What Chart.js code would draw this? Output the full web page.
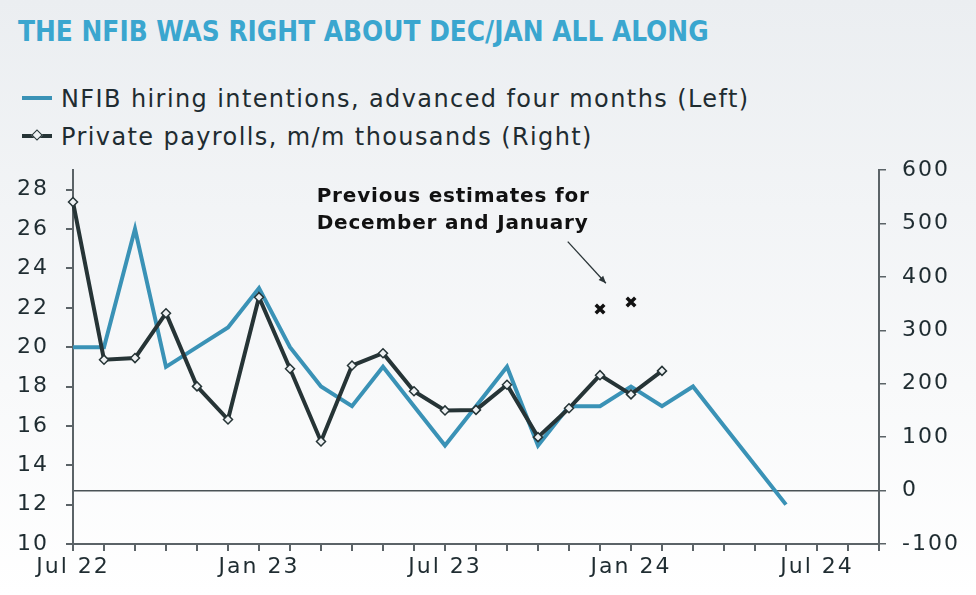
<!DOCTYPE html>
<html>
<head>
<meta charset="utf-8">
<title>NFIB vs private payrolls</title>
<script src="https://cdn.jsdelivr.net/npm/chart.js@4.4.1/dist/chart.umd.min.js"></script>
<style>
    html, body { margin: 0; padding: 0; }
    body {
        width: 976px;
        height: 595px;
        position: relative;
        overflow: hidden;
        background: linear-gradient(#ebeef1, #ffffff);
        font-family: "DejaVu Sans", sans-serif;
        color: #1f2c31;
    }
    #title {
        position: absolute;
        left: 18px;
        top: 15px;
        font-family: "DejaVu Sans Condensed", "DejaVu Sans", sans-serif;
        font-weight: bold;
        font-size: 27.7px;
        color: #3aa6cf;
        white-space: nowrap;
    }
    .legend-row {
        position: absolute;
        left: 22px;
        font-size: 24px;
        letter-spacing: 1.4px;
        white-space: nowrap;
        line-height: 28px;
    }
    .legend-row .mark {
        display: inline-block;
        position: relative;
        width: 30px;
        height: 4px;
        margin-right: 9px;
        vertical-align: middle;
        top: -2px;
    }
    .legend-row .diamond {
        position: absolute;
        left: 11px;
        top: -3px;
        width: 6px;
        height: 6px;
        background: #eef1f3;
        border: 1.5px solid #263436;
        transform: rotate(45deg);
    }
    #chart { position: absolute; left: 0; top: 0; }
</style>
</head>
<body>
<div id="title">THE NFIB WAS RIGHT ABOUT DEC/JAN ALL ALONG</div>
<div class="legend-row" style="top: 85px;"><span class="mark" style="background:#3a92b6;"></span>NFIB hiring intentions, advanced four months (Left)</div>
<div class="legend-row" style="top: 123px;"><span class="mark" style="background:#263436;"><span class="diamond"></span></span>Private payrolls, m/m thousands (Right)</div>
<canvas id="chart" width="976" height="595"></canvas>

<script>
// months on the x axis, Jul 22 .. Sep 24
var months = ['Jul 22', 'Aug 22', 'Sep 22', 'Oct 22', 'Nov 22', 'Dec 22',
    'Jan 23', 'Feb 23', 'Mar 23', 'Apr 23', 'May 23', 'Jun 23',
    'Jul 23', 'Aug 23', 'Sep 23', 'Oct 23', 'Nov 23', 'Dec 23',
    'Jan 24', 'Feb 24', 'Mar 24', 'Apr 24', 'May 24', 'Jun 24',
    'Jul 24', 'Aug 24', 'Sep 24'];
var shownMonths = ['Jul 22', 'Jan 23', 'Jul 23', 'Jan 24', 'Jul 24'];

// NFIB hiring intentions, advanced four months (left axis)
var nfib = [20, 20, 26, 19, 20, 21, 23, 20, 18, 17, 19, 17,
    15, 17, 19, 15, 17, 17, 18, 17, 18, 16, 14, 12];

// private payrolls, m/m thousands (right axis)
var payrolls = [540, 245, 248, 332, 195, 133, 362, 228, 92, 234, 257, 186,
    150, 151, 198, 100, 154, 216, 180, 224];

// previous estimates for December and January
var prevEstimates = [null, null, null, null, null, null, null, null, null, null, null, null,
    null, null, null, null, null, 340, 353];

var annotationLines = ['Previous estimates for', 'December and January'];

(function () {
    'use strict';

    var axisGray = '#5b6367';
    var tickFont = { family: '"DejaVu Sans", sans-serif', size: 22 };
    var textColor = '#1f2c31';

    // wider tick lettering, like the original
    var spacingPlugin = {
        id: 'tickSpacing',
        beforeLayout: function (chart) { chart.ctx.letterSpacing = '2px'; },
        beforeDraw: function (chart) { chart.ctx.letterSpacing = '2px'; }
    };

    // text + arrow for the previous estimates
    var annotationPlugin = {
        id: 'estimateNote',
        afterDatasetsDraw: function (chart) {
            var ctx = chart.ctx;
            var x = chart.scales.x;
            var yR = chart.scales.yR;
            ctx.save();
            ctx.letterSpacing = '0.8px';
            ctx.fillStyle = '#111111';
            ctx.font = 'bold 20px "DejaVu Sans", sans-serif';
            ctx.textBaseline = 'alphabetic';
            ctx.textAlign = 'left';
            var tx = x.getPixelForValue(7.86);
            ctx.fillText(annotationLines[0], tx, yR.getPixelForValue(540));
            ctx.fillText(annotationLines[1], tx, yR.getPixelForValue(489));

            var x1 = x.getPixelForValue(15.96), y1 = yR.getPixelForValue(466);
            var x2 = x.getPixelForValue(17.19), y2 = yR.getPixelForValue(388);
            ctx.strokeStyle = '#2b3538';
            ctx.lineWidth = 1.3;
            ctx.beginPath();
            ctx.moveTo(x1, y1);
            ctx.lineTo(x2, y2);
            ctx.stroke();
            var ang = Math.atan2(y2 - y1, x2 - x1);
            ctx.fillStyle = '#2b3538';
            ctx.beginPath();
            ctx.moveTo(x2, y2);
            ctx.lineTo(x2 - 8 * Math.cos(ang - 0.4), y2 - 8 * Math.sin(ang - 0.4));
            ctx.lineTo(x2 - 8 * Math.cos(ang + 0.4), y2 - 8 * Math.sin(ang + 0.4));
            ctx.closePath();
            ctx.fill();
            ctx.restore();
        }
    };

    new Chart(document.getElementById('chart'), {
        type: 'line',
        data: {
            labels: months,
            datasets: [{
                label: 'Previous estimates',
                data: prevEstimates,
                yAxisID: 'yR',
                showLine: false,
                pointStyle: 'crossRot',
                pointRadius: 6,
                pointBorderWidth: 3.5,
                borderColor: '#111111',
                backgroundColor: '#111111'
            }, {
                label: 'Private payrolls, m/m thousands (Right)',
                data: payrolls,
                yAxisID: 'yR',
                borderColor: '#263436',
                borderWidth: 4,
                tension: 0,
                pointStyle: 'rectRot',
                pointRadius: 4.5,
                pointBackgroundColor: '#eef1f3',
                pointBorderColor: '#263436',
                pointBorderWidth: 1.5
            }, {
                label: 'NFIB hiring intentions, advanced four months (Left)',
                data: nfib,
                yAxisID: 'yL',
                borderColor: '#3a92b6',
                borderWidth: 4,
                tension: 0,
                pointRadius: 0
            }]
        },
        options: {
            responsive: false,
            animation: false,
            devicePixelRatio: 1,
            layout: {
                padding: { top: 170, left: 0, right: 0, bottom: 0 }
            },
            plugins: {
                legend: { display: false },
                title: { display: false },
                tooltip: { enabled: false }
            },
            scales: {
                x: {
                    offset: false,
                    grid: {
                        drawOnChartArea: false,
                        offset: false,
                        color: axisGray,
                        tickLength: 7,
                        lineWidth: 2
                    },
                    border: { color: axisGray, width: 2 },
                    ticks: {
                        autoSkip: false,
                        maxRotation: 0,
                        padding: 3,
                        color: textColor,
                        font: tickFont,
                        callback: function (val) {
                            var lab = months[val];
                            return shownMonths.indexOf(lab) >= 0 ? lab : '';
                        }
                    },
                    afterFit: function (scale) { scale.height = 51; }
                },
                yL: {
                    position: 'left',
                    min: 10,
                    max: 29,
                    grid: {
                        drawOnChartArea: false,
                        color: axisGray,
                        tickLength: 7,
                        lineWidth: 2
                    },
                    border: { color: axisGray, width: 2 },
                    ticks: {
                        stepSize: 2,
                        includeBounds: false,
                        padding: 17,
                        color: textColor,
                        font: tickFont
                    },
                    afterFit: function (scale) { scale.width = 73; }
                },
                yR: {
                    position: 'right',
                    min: -100,
                    max: 600,
                    grid: {
                        drawOnChartArea: true,
                        color: function (c) { return c.tick && c.tick.value === 0 ? '#4a5256' : 'rgba(0,0,0,0)'; },
                        tickColor: axisGray,
                        tickLength: 7,
                        lineWidth: 1.5
                    },
                    border: { color: axisGray, width: 2 },
                    ticks: {
                        stepSize: 100,
                        padding: 16,
                        color: textColor,
                        font: tickFont
                    },
                    afterFit: function (scale) { scale.width = 97; }
                }
            }
        },
        plugins: [spacingPlugin, annotationPlugin]
    });
})();
</script>
</body>
</html>
